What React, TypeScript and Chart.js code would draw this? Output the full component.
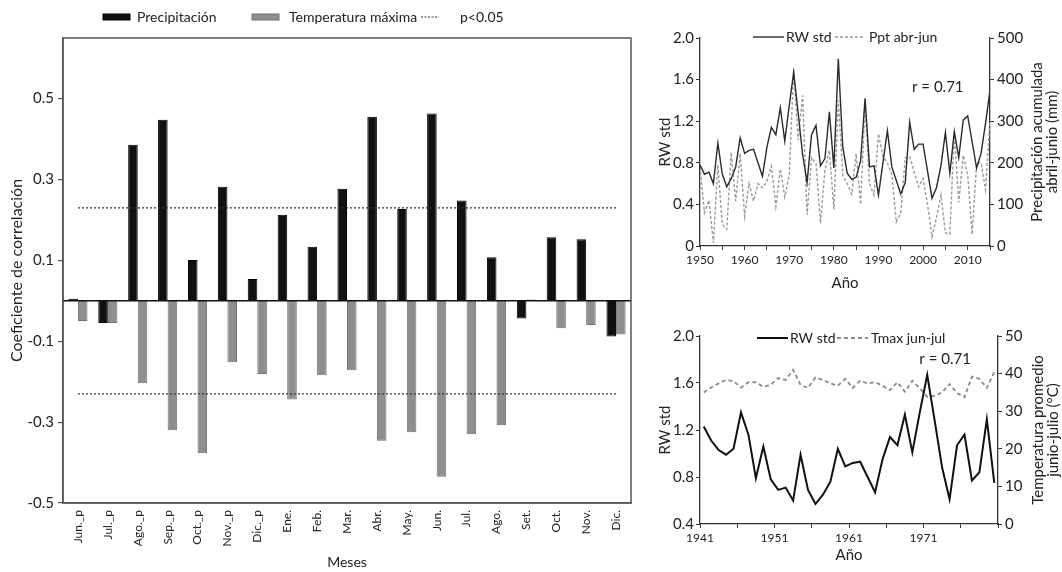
import React, { useEffect, useRef } from 'react';
import { Chart, registerables } from 'chart.js';

Chart.register(...registerables);

const FONT = 'Lato, "Open Sans", "DejaVu Sans", sans-serif';
Chart.defaults.font.family = FONT;
Chart.defaults.color = '#222';

// ---------- Left chart data ----------
const months = ['Jun._p', 'Jul._p', 'Ago._p', 'Sep._p', 'Oct._p', 'Nov._p', 'Dic._p', 'Ene.', 'Feb.', 'Mar.', 'Abr.', 'May.', 'Jun.', 'Jul.', 'Ago.', 'Set.', 'Oct.', 'Nov.', 'Dic.'];
const precipCorr = [0.005, -0.055, 0.386, 0.448, 0.101, 0.282, 0.054, 0.213, 0.134, 0.277, 0.455, 0.227, 0.463, 0.248, 0.108, -0.044, 0.157, 0.152, -0.088];
const tmaxCorr = [-0.05, -0.055, -0.204, -0.32, -0.377, -0.152, -0.181, -0.244, -0.184, -0.172, -0.346, -0.325, -0.435, -0.33, -0.308, 0.003, -0.068, -0.06, -0.083];
const sigLevel = 0.23;
const corrTicks = [-0.5, -0.3, -0.1, 0.1, 0.3, 0.5];

// ---------- Top right chart data ----------
const yearsTop = [1950, 1951, 1952, 1953, 1954, 1955, 1956, 1957, 1958, 1959, 1960, 1961, 1962, 1963, 1964, 1965, 1966, 1967, 1968, 1969, 1970, 1971, 1972, 1973, 1974, 1975, 1976, 1977, 1978, 1979, 1980, 1981, 1982, 1983, 1984, 1985, 1986, 1987, 1988, 1989, 1990, 1991, 1992, 1993, 1994, 1995, 1996, 1997, 1998, 1999, 2000, 2001, 2002, 2003, 2004, 2005, 2006, 2007, 2008, 2009, 2010, 2011, 2012, 2013, 2014, 2015];
const rwStdTop = [0.78, 0.69, 0.71, 0.60, 0.99, 0.69, 0.57, 0.65, 0.76, 1.04,
  0.89, 0.92, 0.93, 0.80, 0.67, 0.95, 1.14, 1.07, 1.33, 1.01,
  1.35, 1.67, 1.28, 0.88, 0.61, 1.07, 1.16, 0.77, 0.84, 1.29,
  0.75, 1.80, 0.95, 0.70, 0.64, 0.66, 0.82, 1.42, 0.76, 0.77,
  0.49, 0.80, 1.11, 0.76, 0.63, 0.50, 0.61, 1.19, 0.93, 0.98,
  0.98, 0.72, 0.46, 0.56, 0.77, 1.09, 0.70, 1.10, 0.85, 1.21,
  1.25, 1.00, 0.75, 0.89, 1.18, 1.50];
const pptAbrJun = [190, 80, 110, 8, 195, 52, 40, 225, 108, 222,
  72, 150, 108, 150, 140, 155, 192, 95, 185, 118,
  170, 425, 255, 362, 75, 212, 198, 55, 182, 230,
  88, 350, 170, 150, 125, 222, 100, 342, 150, 122,
  270, 215, 200, 172, 58, 78, 212, 215, 178, 142,
  162, 100, 22, 68, 122, 32, 28, 272, 105, 218,
  172, 28, 198, 200, 135, 302];
const topXTickValues = [1950, 1955, 1960, 1965, 1970, 1975, 1980, 1985, 1990, 1995, 2000, 2005, 2010, 2015];
const topXTickLabels = ['1950', '', '1960', '', '1970', '', '1980', '', '1990', '', '2000', '', '2010', ''];
const rwTicksTop = [0, 0.4, 0.8, 1.2, 1.6, 2.0];

// ---------- Bottom right chart data ----------
const yearsBottom = [1941, 1942, 1943, 1944, 1945, 1946, 1947, 1948, 1949, 1950, 1951, 1952, 1953, 1954, 1955, 1956, 1957, 1958, 1959, 1960, 1961, 1962, 1963, 1964, 1965, 1966, 1967, 1968, 1969, 1970, 1971, 1972, 1973, 1974, 1975, 1976, 1977, 1978, 1979, 1980];
const rwStdBottom = [1.23, 1.11, 1.03, 0.99, 1.04, 1.35, 1.16, 0.79, 1.06,
  0.78, 0.69, 0.71, 0.60, 0.99, 0.69, 0.57, 0.65, 0.76, 1.04,
  0.89, 0.92, 0.93, 0.80, 0.67, 0.95, 1.14, 1.07, 1.33, 1.01,
  1.35, 1.67, 1.28, 0.88, 0.61, 1.07, 1.16, 0.77, 0.84, 1.29, 0.75];
const tmaxJunJul = [35.0, 36.3, 37.4, 38.3, 38.0, 36.3, 37.7, 37.7, 36.5, 37.0,
  38.8, 38.3, 41.0, 37.0, 36.2, 39.0, 38.3, 37.4, 36.8, 38.6,
  36.2, 38.1, 37.4, 37.7, 36.8, 35.6, 37.7, 35.2, 38.1, 36.1,
  33.8, 34.1, 35.0, 37.2, 34.8, 33.7, 39.2, 38.6, 36.2, 40.4];
const bottomXTickValues = [1940.5, 1945.5, 1950.5, 1955.5, 1960.5, 1965.5, 1970.5, 1975.5, 1980.5];
const bottomXTickLabels = ['1941', '', '1951', '', '1961', '', '1971', '', ''];
const rwTicksBottom = [0.4, 0.8, 1.2, 1.6, 2.0];

// ---------- styles ----------
const BLACK = '#111';
const GRAY_BAR = '#8e8e8e';
const GRAY_BAR_EDGE = '#707070';
const AXIS = '#333';

type LegendItem = { kind: 'box' | 'line'; x: number; w: number; h?: number; fill?: string; stroke: string; dash?: number[]; lw?: number; text: string; textX: number };

const inlineLegend = (items: LegendItem[], y: number, size: number) => ({
  id: 'inlineLegend',
  afterDraw(chart: any) {
    const ctx = chart.ctx;
    ctx.save();
    ctx.font = `${size}px ${FONT}`;
    ctx.textBaseline = 'middle';
    ctx.textAlign = 'left';
    for (const it of items) {
      if (it.kind === 'box') {
        const h = it.h || 6;
        ctx.fillStyle = it.fill;
        ctx.fillRect(it.x, y - h / 2, it.w, h);
        ctx.strokeStyle = it.stroke;
        ctx.lineWidth = 1;
        ctx.strokeRect(it.x, y - h / 2, it.w, h);
      } else {
        ctx.strokeStyle = it.stroke;
        ctx.lineWidth = it.lw || 1;
        ctx.setLineDash(it.dash || []);
        ctx.beginPath();
        ctx.moveTo(it.x, y);
        ctx.lineTo(it.x + it.w, y);
        ctx.stroke();
        ctx.setLineDash([]);
      }
      ctx.fillStyle = '#222';
      ctx.fillText(it.text, it.textX, y);
    }
    ctx.restore();
  },
});

const framePlugin = {
  id: 'frame',
  afterDraw(chart: any) {
    const { ctx, chartArea: a } = chart;
    ctx.save();
    ctx.strokeStyle = '#555';
    ctx.lineWidth = 1.5;
    ctx.strokeRect(a.left, a.top, a.right - a.left, a.bottom - a.top);
    ctx.restore();
  },
};

const zeroLinePlugin = {
  id: 'zeroLine',
  afterDatasetsDraw(chart: any) {
    const { ctx, chartArea: a } = chart;
    const y = chart.scales.y.getPixelForValue(0);
    ctx.save();
    ctx.strokeStyle = '#111';
    ctx.lineWidth = 1.5;
    ctx.beginPath();
    ctx.moveTo(a.left, y);
    ctx.lineTo(a.right, y);
    ctx.stroke();
    ctx.restore();
  },
};

const sideTitle = (lines: string[], xs: number[], size: number) => ({
  id: 'sideTitle',
  afterDraw(chart: any) {
    const { ctx, chartArea: a } = chart;
    const cy = (a.top + a.bottom) / 2;
    ctx.save();
    ctx.font = `${size}px ${FONT}`;
    ctx.fillStyle = '#222';
    ctx.textAlign = 'center';
    ctx.textBaseline = 'middle';
    lines.forEach((t, i) => {
      ctx.save();
      ctx.translate(xs[i], cy);
      ctx.rotate(-Math.PI / 2);
      ctx.fillText(t, 0, 0);
      ctx.restore();
    });
    ctx.restore();
  },
});

const corrLabel = (text: string, xVal: number, yVal: number, size: number) => ({
  id: 'corrLabel',
  afterDraw(chart: any) {
    const { ctx } = chart;
    const x = chart.scales.x.getPixelForValue(xVal);
    const y = chart.scales.y.getPixelForValue(yVal);
    ctx.save();
    ctx.font = `${size}px ${FONT}`;
    ctx.fillStyle = '#222';
    ctx.textAlign = 'center';
    ctx.textBaseline = 'middle';
    ctx.fillText(text, x, y);
    ctx.restore();
  },
});

function buildLeft(): any {
  return {
    type: 'bar',
    data: {
      labels: months,
      datasets: [
        { label: 'Precipitación', data: precipCorr, backgroundColor: BLACK, borderColor: '#000', borderWidth: 1, categoryPercentage: 0.64, barPercentage: 1, order: 2 },
        { label: 'Temperatura máxima', data: tmaxCorr, backgroundColor: GRAY_BAR, borderColor: GRAY_BAR_EDGE, borderWidth: 1, categoryPercentage: 0.64, barPercentage: 1, order: 2 },
        { type: 'line', label: 'p<0.05', data: [{ x: months[0], y: sigLevel }, { x: months[months.length - 1], y: sigLevel }], borderColor: '#333', borderWidth: 1.2, borderDash: [2, 2], pointRadius: 0, order: 1 },
        { type: 'line', label: 'p<0.05 ', data: [{ x: months[0], y: -sigLevel }, { x: months[months.length - 1], y: -sigLevel }], borderColor: '#333', borderWidth: 1.2, borderDash: [2, 2], pointRadius: 0, order: 1 },
      ],
    },
    options: {
      responsive: false,
      maintainAspectRatio: false,
      animation: false,
      layout: { padding: { top: 38, right: 9, left: 0, bottom: 0 } },
      plugins: { legend: { display: false }, tooltip: { enabled: false } },
      scales: {
        x: {
          type: 'category',
          offset: true,
          grid: { display: false, drawTicks: false },
          border: { display: true, color: '#555', width: 1.5 },
          ticks: { minRotation: 90, maxRotation: 90, autoSkip: false, padding: 7, color: '#222', font: { size: 12 } },
          title: { display: true, text: 'Meses', color: '#222', font: { size: 14 }, padding: { top: 0, bottom: 1 } },
          afterFit: (s: any) => { s.height = 69; },
        },
        y: {
          min: -0.5,
          max: 0.65,
          afterBuildTicks: (s: any) => { s.ticks = corrTicks.map((v) => ({ value: v })); },
          ticks: { callback: (v: any) => Number(v).toFixed(1), color: '#222', font: { size: 15 }, padding: 4 },
          grid: { drawOnChartArea: false, tickLength: 5, color: '#555', lineWidth: 1.2 },
          border: { display: true, color: '#555', width: 1.5 },
          title: { display: true, text: 'Coeficiente de correlación', color: '#222', font: { size: 16 }, padding: { top: 7, bottom: 0 } },
          afterFit: (s: any) => { s.width = 63; },
        },
      },
    },
    plugins: [
      zeroLinePlugin,
      framePlugin,
      inlineLegend([
        { kind: 'box', x: 103, w: 27, h: 6, fill: BLACK, stroke: '#000', text: 'Precipitación', textX: 137 },
        { kind: 'box', x: 252, w: 27, h: 6, fill: GRAY_BAR, stroke: GRAY_BAR_EDGE, text: 'Temperatura máxima', textX: 289 },
        { kind: 'line', x: 421, w: 18, stroke: '#333', dash: [2, 1.5], lw: 1.2, text: 'p<0.05', textX: 460 },
      ], 17, 14),
    ],
  };
}

function buildTop(): any {
  return {
    type: 'line',
    data: {
      datasets: [
        { label: 'RW std', data: yearsTop.map((yr, i) => ({ x: yr, y: rwStdTop[i] })), borderColor: '#2a2a2a', borderWidth: 1.4, pointRadius: 0, yAxisID: 'y', tension: 0 },
        { label: 'Ppt abr-jun', data: yearsTop.map((yr, i) => ({ x: yr, y: pptAbrJun[i] })), borderColor: '#9a9a9a', borderWidth: 1.4, borderDash: [3, 2], pointRadius: 0, yAxisID: 'y1', tension: 0 },
      ],
    },
    options: {
      responsive: false,
      maintainAspectRatio: false,
      animation: false,
      layout: { padding: { top: 18, left: 0, right: 0, bottom: 0 } },
      plugins: { legend: { display: false }, tooltip: { enabled: false } },
      scales: {
        x: {
          type: 'linear',
          min: 1950,
          max: 2015,
          afterBuildTicks: (s: any) => { s.ticks = topXTickValues.map((v) => ({ value: v })); },
          ticks: { autoSkip: false, maxRotation: 0, padding: 3, color: '#222', font: { size: 12 }, callback: (v: any) => topXTickLabels[topXTickValues.indexOf(Number(v))] ?? '' },
          grid: { drawOnChartArea: false, tickLength: 4, color: AXIS },
          border: { display: true, color: AXIS, width: 1.3 },
          title: { display: true, text: 'Año', color: '#222', font: { size: 15 }, padding: { top: 0, bottom: 8 } },
          afterFit: (s: any) => { s.height = 54; },
        },
        y: {
          position: 'left',
          min: 0,
          max: 2,
          afterBuildTicks: (s: any) => { s.ticks = rwTicksTop.map((v) => ({ value: v })); },
          ticks: { color: '#222', font: { size: 15 }, padding: 2, callback: (v: any) => (Number(v) === 0 ? '0' : Number(v).toFixed(1)) },
          grid: { drawOnChartArea: false, tickLength: 4, color: AXIS },
          border: { display: true, color: AXIS, width: 1.3 },
          title: { display: true, text: 'RW std', color: '#222', font: { size: 15 }, padding: { top: 16, bottom: 0 } },
          afterFit: (s: any) => { s.width = 60; },
        },
        y1: {
          position: 'right',
          min: 0,
          max: 500,
          ticks: { stepSize: 100, color: '#222', font: { size: 15 }, padding: 3 },
          grid: { drawOnChartArea: false, tickLength: 4, color: AXIS },
          border: { display: true, color: AXIS, width: 1.3 },
          afterFit: (s: any) => { s.width = 72; },
        },
      },
    },
    plugins: [
      inlineLegend([
        { kind: 'line', x: 113, w: 31, stroke: '#2a2a2a', lw: 1.4, text: 'RW std', textX: 146 },
        { kind: 'line', x: 195, w: 30, stroke: '#9a9a9a', dash: [3, 2], lw: 1.4, text: 'Ppt abr-jun', textX: 229 },
      ], 17, 14),
      sideTitle(['Precipitación acumulada', 'abril-junio (mm)'], [397, 412], 15),
      corrLabel('r = 0.71', 2003.3, 1.53, 15),
    ],
  };
}

function buildBottom(): any {
  return {
    type: 'line',
    data: {
      datasets: [
        { label: 'RW std', data: yearsBottom.map((yr, i) => ({ x: yr, y: rwStdBottom[i] })), borderColor: '#111', borderWidth: 2, pointRadius: 0, yAxisID: 'y', tension: 0 },
        { label: 'Tmax jun-jul', data: yearsBottom.map((yr, i) => ({ x: yr, y: tmaxJunJul[i] })), borderColor: '#8c8c8c', borderWidth: 1.8, borderDash: [4, 3], pointRadius: 0, yAxisID: 'y1', tension: 0 },
      ],
    },
    options: {
      responsive: false,
      maintainAspectRatio: false,
      animation: false,
      layout: { padding: { top: 16, left: 0, right: 0, bottom: 0 } },
      plugins: { legend: { display: false }, tooltip: { enabled: false } },
      scales: {
        x: {
          type: 'linear',
          min: 1940.5,
          max: 1980.5,
          afterBuildTicks: (s: any) => { s.ticks = bottomXTickValues.map((v) => ({ value: v })); },
          ticks: { autoSkip: false, maxRotation: 0, padding: 3, color: '#222', font: { size: 12 }, callback: (v: any) => bottomXTickLabels[bottomXTickValues.indexOf(Number(v))] ?? '' },
          grid: { drawOnChartArea: false, tickLength: 4, color: AXIS },
          border: { display: true, color: AXIS, width: 1.3 },
          title: { display: true, text: 'Año', color: '#222', font: { size: 15 }, padding: { top: 0, bottom: 8 } },
          afterFit: (s: any) => { s.height = 48; },
        },
        y: {
          position: 'left',
          min: 0.4,
          max: 2,
          afterBuildTicks: (s: any) => { s.ticks = rwTicksBottom.map((v) => ({ value: v })); },
          ticks: { color: '#222', font: { size: 15 }, padding: 2, callback: (v: any) => Number(v).toFixed(1) },
          grid: { drawOnChartArea: false, tickLength: 4, color: AXIS },
          border: { display: true, color: AXIS, width: 1.3 },
          title: { display: true, text: 'RW std', color: '#222', font: { size: 15 }, padding: { top: 16, bottom: 0 } },
          afterFit: (s: any) => { s.width = 60; },
        },
        y1: {
          position: 'right',
          min: 0,
          max: 50,
          ticks: { stepSize: 10, color: '#222', font: { size: 15 }, padding: 3 },
          grid: { drawOnChartArea: false, tickLength: 4, color: AXIS },
          border: { display: true, color: AXIS, width: 1.3 },
          afterFit: (s: any) => { s.width = 64; },
        },
      },
    },
    plugins: [
      inlineLegend([
        { kind: 'line', x: 117, w: 31, stroke: '#111', lw: 2, text: 'RW std', textX: 150 },
        { kind: 'line', x: 197, w: 31, stroke: '#8c8c8c', dash: [4, 3], lw: 1.8, text: 'Tmax jun-jul', textX: 231 },
      ], 18, 14),
      sideTitle(['Temperatura promedio', 'junio-julio (°C)'], [398, 413], 15),
      corrLabel('r = 0.71', 1973.4, 1.80, 15),
    ],
  };
}

function ChartBox({ left, top, width, height, build }: { left: number; top: number; width: number; height: number; build: () => any }) {
  const ref = useRef<HTMLCanvasElement>(null);
  useEffect(() => {
    const chart = new Chart(ref.current as HTMLCanvasElement, build());
    return () => chart.destroy();
  }, []);
  return (
    <div style={{ position: 'absolute', left, top, width, height }}>
      <canvas ref={ref} width={width} height={height} style={{ width, height, display: 'block' }} />
    </div>
  );
}

export default function App() {
  return (
    <div style={{ position: 'absolute', left: 0, top: 0, width: 1062, height: 572, background: '#fff', overflow: 'hidden' }}>
      <ChartBox left={0} top={0} width={640} height={572} build={buildLeft} />
      <ChartBox left={640} top={20} width={422} height={280} build={buildTop} />
      <ChartBox left={640} top={320} width={422} height={252} build={buildBottom} />
    </div>
  );
}
